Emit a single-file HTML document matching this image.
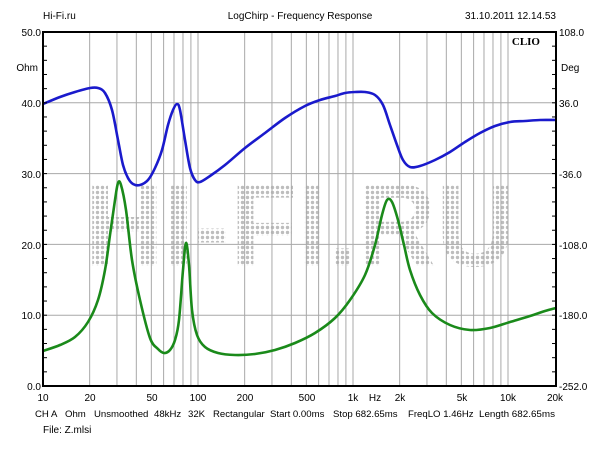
<!DOCTYPE html>
<html><head><style>
body{margin:0;background:#fff;}
svg{display:block;font-family:"Liberation Sans",Arial,sans-serif;}
</style></head><body>
<svg width="600" height="450" viewBox="0 0 600 450" xmlns="http://www.w3.org/2000/svg">
<defs>
<pattern id="dots" width="5" height="5" patternUnits="userSpaceOnUse">
<circle cx="2.5" cy="2.5" r="1.7" fill="#bdbdbd"/>
</pattern>
</defs>
<rect width="600" height="450" fill="#fff"/>
<text x="43" y="19" font-size="10" fill="#000">Hi-Fi.ru</text>
<text x="300" y="19" font-size="10" fill="#000" text-anchor="middle">LogChirp - Frequency Response</text>
<text x="556" y="19" font-size="10" fill="#000" text-anchor="end">31.10.2011 12.14.53</text>

<text x="300" y="266" font-size="118" font-weight="bold" fill="url(#dots)" text-anchor="middle" textLength="430" lengthAdjust="spacingAndGlyphs">HI-FI.RU</text>

<g stroke="#a8a8a8" stroke-width="1" id="grid"></g>
<g stroke="#a8a8a8" stroke-width="1">
<line x1="43" y1="102.8" x2="556" y2="102.8"/>
<line x1="43" y1="173.6" x2="556" y2="173.6"/>
<line x1="43" y1="244.4" x2="556" y2="244.4"/>
<line x1="43" y1="315.2" x2="556" y2="315.2"/>
</g>

<path id="blue" fill="none" stroke="#1a1acc" stroke-width="2.6" stroke-linejoin="round"/>
<path id="green" fill="none" stroke="#1a8a1a" stroke-width="2.6" stroke-linejoin="round"/>

<rect x="43" y="32" width="513" height="354" fill="none" stroke="#000" stroke-width="2"/>
<g stroke="#000" stroke-width="1" id="ticks"></g>
<text x="540" y="45" font-size="11" font-weight="bold" font-family="Liberation Serif,serif" text-anchor="end">CLIO</text>

<g font-size="10" fill="#000" text-anchor="end">
<text x="41" y="36">50.0</text>
<text x="41" y="107">40.0</text>
<text x="41" y="178">30.0</text>
<text x="41" y="249">20.0</text>
<text x="41" y="319">10.0</text>
<text x="41" y="390">0.0</text>
<text x="38" y="71">Ohm</text>
</g>
<g font-size="10" fill="#000">
<text x="559" y="36">108.0</text>
<text x="559" y="107">36.0</text>
<text x="559" y="178">-36.0</text>
<text x="559" y="249">-108.0</text>
<text x="559" y="319">-180.0</text>
<text x="559" y="390">-252.0</text>
<text x="561" y="71">Deg</text>
</g>
<g font-size="10" fill="#000" text-anchor="middle">
<text x="43" y="401">10</text>
<text x="90" y="401">20</text>
<text x="152" y="401">50</text>
<text x="198" y="401">100</text>
<text x="245" y="401">200</text>
<text x="307" y="401">500</text>
<text x="353" y="401">1k</text>
<text x="375" y="401">Hz</text>
<text x="400" y="401">2k</text>
<text x="462" y="401">5k</text>
<text x="508" y="401">10k</text>
<text x="555" y="401">20k</text>
</g>
<g font-size="9.6" fill="#000">
<text x="35" y="417">CH A</text>
<text x="65" y="417">Ohm</text>
<text x="94" y="417">Unsmoothed</text>
<text x="154" y="417">48kHz</text>
<text x="188" y="417">32K</text>
<text x="213" y="417">Rectangular</text>
<text x="270" y="417">Start 0.00ms</text>
<text x="333" y="417">Stop 682.65ms</text>
<text x="408" y="417">FreqLO 1.46Hz</text>
<text x="479" y="417" textLength="76" lengthAdjust="spacingAndGlyphs">Length 682.65ms</text>
</g>
<text x="43" y="433" font-size="10" fill="#000">File: Z.mlsi</text>
</svg>
<script>
var g=document.getElementById('grid'),t=document.getElementById('ticks'),ns='http://www.w3.org/2000/svg';
function L(p,a,b,c,d){var l=document.createElementNS(ns,'line');l.setAttribute('x1',a);l.setAttribute('y1',b);l.setAttribute('x2',c);l.setAttribute('y2',d);p.appendChild(l);}
[10,100,1000].forEach(function(d){for(var k=1;k<10;k++){var f=d*k;if(f==10)continue;var x=43+155*Math.log10(f/10);L(g,x,32,x,386);}});
L(g,508,32,508,386);
for(var v=0;v<=50;v+=2){var y=386-v*7.08;L(t,43,y,47,y);L(t,552,y,556,y);}
function cr(s){var p=s.trim().split(/\s+/).map(function(q){return q.split(',').map(Number);});
var d='M'+p[0][0]+','+p[0][1];
for(var i=0;i<p.length-1;i++){var p0=p[i-1]||p[i],p1=p[i],p2=p[i+1],p3=p[i+2]||p2;
d+=' C'+(p1[0]+(p2[0]-p0[0])/6)+','+(p1[1]+(p2[1]-p0[1])/6)+' '+(p2[0]-(p3[0]-p1[0])/6)+','+(p2[1]-(p3[1]-p1[1])/6)+' '+p2[0]+','+p2[1];}
return d;}
document.getElementById('blue').setAttribute('d',cr("43,104 60,97 75,92 90,88 98,88 105,93 112,110 118,140 123,165 128,178 133,184 140,185 148,180 155,168 162,150 168,125 173,110 177,104 180,110 185,140 190,168 195,180 200,182 210,176 225,165 245,148 265,133 285,118 305,106 320,100 335,96 345,93 355,92 365,92 375,95 383,105 390,125 397,145 403,160 410,167 420,166 435,160 450,152 465,142 480,133 495,126 510,122 525,121 540,120 556,120"));
document.getElementById('green').setAttribute('d',cr("43,351 60,345 75,337 88,322 98,300 105,270 110,235 115,200 118,183 121,185 126,210 132,260 140,300 150,338 158,349 164,353 170,350 175,340 179,320 183,270 186,243 189,265 192,310 197,335 205,347 218,353 235,355 255,354 275,350 295,343 315,333 335,318 350,300 365,275 375,245 382,215 387,200 392,202 398,220 404,245 410,270 420,295 432,313 450,325 470,330 490,328 510,322 530,316 545,311 556,308"));
</script>
</body></html>
